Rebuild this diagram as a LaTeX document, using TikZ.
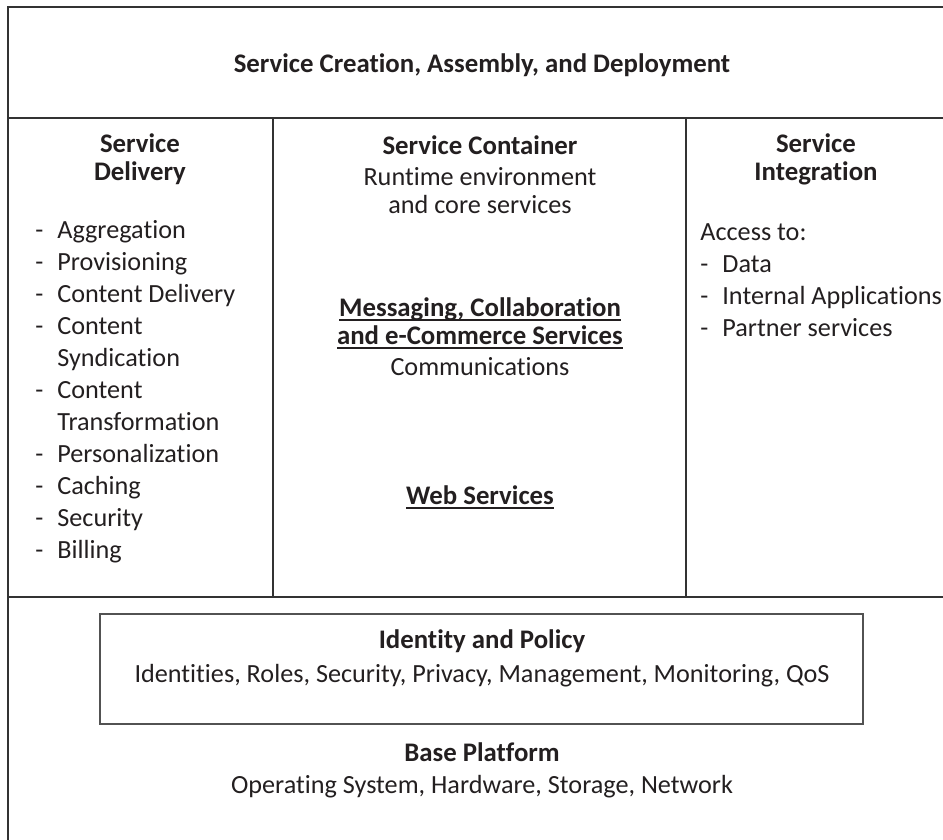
\documentclass[tikz,border=0pt]{standalone}
\usepackage{fontspec}
\setmainfont[Ligatures=NoCommon]{Carlito}
\definecolor{inkgrey}{HTML}{231F20}
\definecolor{rulegrey}{HTML}{333333}
\newcommand{\dashitem}[1]{\makebox[11pt][l]{-}#1}
\newcommand{\contitem}[1]{\hspace*{11pt}#1}
\newcommand{\svcunderline}[1]{\setbox0\hbox{#1}\rlap{\rule[-2.2pt]{\wd0}{0.6pt}}\box0}

\begin{document}
\begin{tikzpicture}[x=0.5pt, y=-0.5pt,
    frame/.style={draw=rulegrey, line width=1pt},
    innerframe/.style={draw=rulegrey!85, line width=0.8pt},
    heading/.style={font=\fontsize{13.4}{14}\selectfont\bfseries, text=inkgrey, align=center, inner sep=0pt},
    body/.style={font=\fontsize{13.1}{14}\selectfont, text=inkgrey, align=center, inner sep=0pt},
    itemlist/.style={font=\fontsize{13.1}{16}\selectfont, text=inkgrey, align=left, inner sep=0pt, anchor=west}]
  \useasboundingbox (0,0) rectangle (943,840);
  \clip (0,0) rectangle (943,840);

  % frame and dividers
  \draw[frame] (8,7) rectangle (960,860);
  \draw[frame] (8,118) -- (960,118);
  \draw[frame] (8,597) -- (960,597);
  \draw[frame] (273,118) -- (273,597);
  \draw[frame] (686,118) -- (686,597);
  \draw[innerframe] (100,614) rectangle (863,724);

  % top band
  \node[heading] (creation) at (482,65) {Service Creation, Assembly, and Deployment};

  % left column
  \node[heading] (delivery) at (140,159) {Service\\Delivery};
  \node[itemlist] (deliverylist) at (35,392) {\dashitem{Aggregation}\\
    \dashitem{Provisioning}\\
    \dashitem{Content Delivery}\\
    \dashitem{Content}\\
    \contitem{Syndication}\\
    \dashitem{Content}\\
    \contitem{Transformation}\\
    \dashitem{Personalization}\\
    \dashitem{Caching}\\
    \dashitem{Security}\\
    \dashitem{Billing}};

  % middle column
  \node[heading] (container) at (480,145) {Service Container};
  \node[body] (runtime) at (480,191) {Runtime environment\\and core services};
  \node[heading] (messaging) at (480,323) {\svcunderline{Messaging, Collaboration}\\\svcunderline{and e-Commerce Services}};
  \node[body] (comms) at (480,367) {Communications};
  \node[heading] (websvc) at (480,497) {\svcunderline{Web Services}};

  % right column
  \node[heading] (integration) at (816,159) {Service\\Integration};
  \node[itemlist] (integrationlist) at (700,280) {Access to:\\
    \dashitem{Data}\\
    \dashitem{Internal Applications}\\
    \dashitem{Partner services}};

  % bottom band
  \node[heading] (identity) at (482,641) {Identity and Policy};
  \node[body] (identities) at (482,676) {Identities, Roles, Security, Privacy, Management, Monitoring, QoS};
  \node[heading] (base) at (482,752) {Base Platform};
  \node[body] (platform) at (482,787) {Operating System, Hardware, Storage, Network};
\end{tikzpicture}
\end{document}
